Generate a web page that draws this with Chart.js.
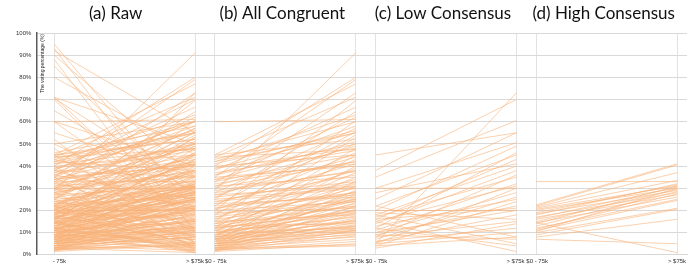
<!DOCTYPE html>
<html>
<head>
<meta charset="utf-8">
<script src="https://cdn.jsdelivr.net/npm/chart.js@4.4.1/dist/chart.umd.min.js"></script>
<style>
  html, body { margin: 0; padding: 0; background: #fff; }
  #wrap { width: 699px; height: 265px; }
</style>
</head>
<body>
<div id="wrap"><canvas id="slopeChart" width="699" height="265"></canvas></div>
<script>
'use strict';

// ---- Data: voting percentage, "$0 - 75k" (low) vs "> $75k" (high) ----
const panelTitles = ['(a) Raw', '(b) All Congruent', '(c) Low Consensus', '(d) High Consensus'];
const xTickLabels = ['      - 75k', '> $75k', ' $0 - 75k', '> $75k ', ' $0 - 75k', '> $75k ', ' $0 - 75k', '> $75k'];
const yTicks = [0, 10, 20, 30, 40, 50, 60, 70, 80, 90, 100];

// (b) all congruent
const congruentLow = [29, 40, 35, 45, 30, 44, 20, 38, 25, 42, 33, 60, 15, 43, 36, 28, 41, 22, 39, 18,
  12, 45, 34, 26, 31, 10, 44, 37, 20, 8, 27, 16, 32, 23, 6, 40, 14, 19, 29, 11,
  24, 9, 35, 17, 5, 21, 13, 7, 25, 15, 4, 12, 18, 9, 3, 22, 14, 6, 11, 8,
  16, 5, 10, 2, 13, 7, 19, 4, 9, 12, 6, 3, 15, 8, 10, 5, 2, 7, 11, 4,
  13, 6, 3, 9, 5, 8, 2, 7, 4, 6, 3, 10, 5, 2, 4, 3, 2, 1.5, 3, 2.5,
  36, 33, 28, 26, 24, 21, 17, 14, 12, 10, 8, 7, 5, 30, 42, 39, 34, 31, 27, 23, 20];
const congruentHigh = [91, 80, 79, 77, 73, 71, 69.5, 66.5, 64.5, 63, 62, 61, 60.5, 60, 58, 57, 56, 55.5, 55, 54,
  53, 52, 51, 50, 49, 48, 47.5, 47, 46, 45, 44, 43, 42, 41, 40, 45, 39, 38, 37.5, 37,
  36, 35, 40, 34, 33, 32.5, 32, 31, 30.5, 30, 29, 28.5, 28, 27.5, 27, 27, 26, 25.5, 25, 24.5,
  24, 23.5, 23, 22, 22, 21.5, 21, 20.5, 20, 19.5, 19, 18.5, 18, 17.5, 17, 16.5, 16, 15.5, 15, 14.5,
  14, 13.5, 13, 12.5, 12, 11.5, 11, 11, 10.5, 10, 9.5, 12, 9, 8.5, 8, 7, 6, 5, 4.5, 4,
  50, 45, 38, 33, 30, 28, 25, 22, 20, 19, 15, 13, 11, 42, 55, 48, 41, 35, 31, 26, 24];

// (c) low consensus
const lowConsLow = [45, 38, 5, 35, 30, 30, 28, 25, 22, 20, 18, 17, 16, 15, 14, 13, 12, 11, 10, 10,
  9, 8, 8, 7, 6, 6, 5, 5, 4, 4, 3, 20, 18, 15, 22, 12, 9, 16, 19];
const lowConsHigh = [55, 70, 73, 60.5, 30, 50.5, 41, 55, 45, 49, 40, 35, 43, 31, 38, 25, 46, 32, 28, 20,
  22, 36, 15, 26, 18, 12, 30, 10, 24, 8, 14, 20, 5, 1.5, 8, 4, 7, 21, 16];

// (d) high consensus
const highConsLow = [33, 22.5, 22, 21.5, 21, 20.5, 20, 19, 18.5, 18, 17, 16.5, 16, 15, 14.5, 14, 13, 12, 11.5, 11,
  10.5, 10, 9, 8, 7, 14.5];
const highConsHigh = [33, 41, 40.5, 37, 33.5, 31, 30, 31.5, 29, 32, 28, 30.5, 27, 29.5, 26, 31, 28.5, 25, 27.5, 24.5,
  30, 21, 20.5, 16, 5, 1];

// incongruent rows (only in Raw)
const otherLow = [95, 93, 90, 88, 85, 80, 71, 70.5, 70, 60, 60, 55, 52, 50, 48, 45, 43, 40, 38, 35,
  33, 30, 28, 25, 22, 20, 18, 15, 12, 10, 8, 50, 46, 42, 38, 36, 32, 26, 24, 20,
  17, 14, 11, 9, 6, 4, 3, 92, 71, 65, 44, 41, 37, 34, 29, 27, 23, 19, 16, 13];
const otherHigh = [20, 10, 35, 5, 25, 45, 12, 30, 8, 40, 15, 35, 5, 20, 2, 10, 30, 5, 20, 3,
  12, 8, 2, 6, 4, 3, 5, 2, 3, 1, 2, 60, 58, 38, 35, 25, 22, 18, 15, 12,
  9, 7, 5, 4, 3, 2, 1, 55, 50, 28, 52, 48, 60, 43, 57, 50, 45, 42, 53, 38];

// ---- Layout ----
const PANEL_STEP = 161 / 141;        // panel width is 1 unit
const LINE_COLOR = 'rgba(249,178,122,0.6)';

const panels = [
  { low: [...congruentLow, ...lowConsLow, ...highConsLow, ...otherLow],
    high: [...congruentHigh, ...lowConsHigh, ...highConsHigh, ...otherHigh] },
  { low: congruentLow, high: congruentHigh },
  { low: lowConsLow, high: lowConsHigh },
  { low: highConsLow, high: highConsHigh },
];

const edges = [];
panels.forEach((p, i) => { edges.push(i * PANEL_STEP, i * PANEL_STEP + 1); });

const datasets = [];
panels.forEach((p, i) => {
  const x0 = i * PANEL_STEP;
  p.low.forEach((v, k) => {
    datasets.push({
      data: [{ x: x0, y: v }, { x: x0 + 1, y: p.high[k] }],
      borderColor: LINE_COLOR,
      borderWidth: 1,
      pointRadius: 0,
      tension: 0,
    });
  });
});

const tickFont = { family: "'Liberation Sans', Arial, sans-serif", size: 6 };

// panel titles + inner y-axis title
const annotations = {
  id: 'annotations',
  afterDraw(chart) {
    const { ctx, scales: { x, y } } = chart;
    const shift = [-9, -3, -3, -3];
    ctx.save();
    ctx.fillStyle = '#111';
    ctx.font = "17px Lato, 'Open Sans', sans-serif";
    ctx.textAlign = 'center';
    ctx.textBaseline = 'middle';
    panelTitles.forEach((t, i) => {
      ctx.fillText(t, x.getPixelForValue(i * PANEL_STEP + 0.5) + shift[i], 14);
    });
    ctx.translate(y.right + 6, y.getPixelForValue(100) + 1);
    ctx.rotate(-Math.PI / 2);
    ctx.font = "5px 'Liberation Sans', Arial, sans-serif";
    ctx.fillStyle = '#222';
    ctx.textAlign = 'right';
    ctx.fillText('The voting percentage (%)', 0, 0);
    ctx.restore();
  }
};

new Chart(document.getElementById('slopeChart'), {
  type: 'line',
  data: { datasets },
  options: {
    responsive: false,
    animation: false,
    events: [],
    layout: { padding: { left: 11, right: 12, top: 33, bottom: -3 } },
    plugins: { legend: { display: false }, tooltip: { enabled: false } },
    scales: {
      x: {
        type: 'linear',
        min: -18 / 141,
        max: 3 * PANEL_STEP + 1 + 10 / 141,
        afterBuildTicks: (axis) => { axis.ticks = edges.map(v => ({ value: v })); },
        grid: { color: '#e2e2e2', drawTicks: false },
        border: { color: '#d6d6d6' },
        ticks: {
          autoSkip: false, maxRotation: 0, padding: 3,
          color: '#333', font: tickFont,
          callback: (v, i) => xTickLabels[i],
        },
      },
      y: {
        min: 0, max: 100,
        afterBuildTicks: (axis) => { axis.ticks = yTicks.map(v => ({ value: v })); },
        grid: { color: '#d9d9d9', drawTicks: false },
        border: { color: '#5a5a5a', width: 1.5 },
        ticks: { padding: 5, color: '#333', font: tickFont, callback: v => v + '%' },
      },
    },
  },
  plugins: [annotations],
});
</script>
</body>
</html>
